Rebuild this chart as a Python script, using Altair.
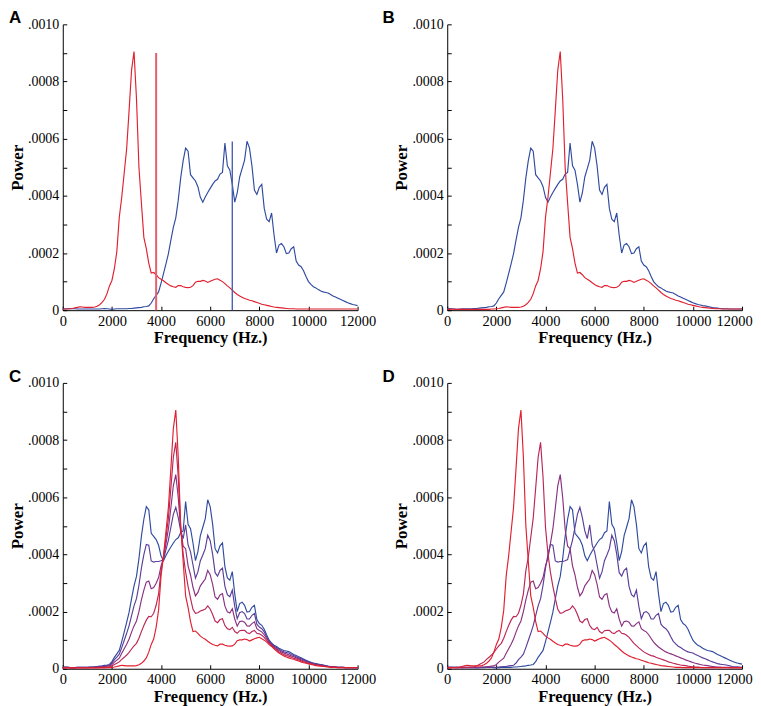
import altair as alt
import pandas as pd

SERIF = "Liberation Serif"
SANS = "Liberation Sans"

# Frequency bins (Hz)
FREQ = list(range(0, 12001, 100))

# Spectral power values in units of 1e-6, one value per 100 Hz bin (0..12000 Hz)
red_B = [3, 3, 4, 3, 3, 3, 3, 3, 3, 3, 3, 3, 3, 3, 3, 3, 3, 3, 4, 4,
         5, 6, 8, 10, 12, 11, 10, 10, 10, 10, 11, 14, 19, 27, 38, 58, 85, 104, 145, 205,
         325, 395, 480, 565, 700, 840, 905, 740, 500, 375, 255, 215, 165, 130, 132, 124, 114, 108, 103, 96,
         90, 85, 82, 80, 86, 86, 82, 80, 79, 80, 86, 98, 101, 101, 104, 102, 97, 101, 105, 108,
         110, 105, 100, 93, 85, 78, 70, 62, 55, 50, 45, 41, 38, 35, 33, 30, 27, 24, 21, 19,
         17, 15, 13, 11, 10, 9, 8, 7, 6, 5, 5, 5, 4, 4, 4, 4, 4, 4, 4, 4, 4]

blue_B = [5, 6, 5, 4, 3, 4, 5, 5, 5, 5, 5, 6, 6, 7, 8, 9, 10, 12, 13, 15,
          25, 40, 52, 64, 95, 128, 162, 198, 245, 290, 323, 385, 463, 523, 567, 556, 474, 463, 452, 432,
          395, 378, 396, 412, 426, 440, 452, 458, 476, 482, 585, 505, 490, 440, 378, 410, 466, 495, 525, 591,
          567, 505, 420, 405, 430, 440, 356, 318, 310, 340, 262, 200, 228, 233, 222, 198, 200, 215, 222, 172,
          158, 152, 138, 118, 100, 90, 82, 78, 72, 67, 64, 62, 60, 55, 50, 46, 42, 38, 34, 30,
          26, 23, 20, 18, 16, 15, 13, 11, 9, 8, 7, 6, 5, 5, 5, 4, 4, 4, 4, 4, 4]

mix_red75 = [4, 4, 4, 3, 3, 3, 4, 4, 4, 4, 4, 4, 4, 4, 4, 5, 5, 5, 6, 7,
             10, 15, 19, 24, 33, 40, 48, 57, 69, 80, 89, 107, 130, 151, 170, 183, 182, 194, 222, 262,
             343, 391, 459, 527, 632, 740, 792, 670, 494, 402, 338, 288, 246, 208, 194, 196, 202, 205, 209, 220,
             209, 190, 167, 161, 172, 175, 151, 140, 137, 145, 130, 124, 133, 134, 134, 126, 123, 130, 134, 124,
             122, 117, 110, 99, 89, 81, 73, 66, 59, 54, 50, 46, 44, 40, 37, 34, 31, 28, 24, 22,
             19, 17, 15, 13, 12, 11, 9, 8, 7, 6, 6, 5, 4, 4, 4, 4, 4, 4, 4, 4, 4]

mix_50 = [4, 5, 5, 4, 3, 4, 4, 4, 4, 4, 4, 5, 5, 5, 6, 6, 7, 8, 9, 10,
          15, 23, 30, 37, 54, 70, 86, 104, 128, 150, 167, 200, 241, 275, 303, 307, 280, 284, 299, 319,
          360, 387, 438, 489, 563, 640, 679, 599, 488, 429, 420, 360, 328, 285, 255, 267, 290, 302, 314, 344,
          329, 295, 251, 243, 258, 263, 219, 199, 195, 210, 174, 149, 165, 167, 163, 150, 149, 158, 164, 140,
          134, 129, 119, 106, 93, 84, 76, 70, 64, 59, 55, 52, 49, 45, 42, 38, 35, 31, 28, 25,
          22, 19, 17, 15, 13, 12, 11, 9, 8, 7, 6, 6, 5, 5, 5, 4, 4, 4, 4, 4, 4]

mix_red25 = [5, 5, 5, 4, 3, 4, 5, 5, 5, 5, 5, 5, 5, 6, 7, 8, 8, 10, 11, 12,
             20, 32, 41, 51, 74, 99, 124, 151, 186, 220, 245, 292, 352, 399, 435, 432, 377, 373, 375, 375,
             378, 382, 417, 450, 495, 540, 565, 529, 482, 455, 503, 433, 409, 363, 317, 339, 378, 398, 420, 467,
             448, 400, 336, 324, 344, 352, 288, 259, 252, 275, 218, 175, 196, 200, 193, 174, 174, 187, 193, 156,
             146, 140, 129, 112, 96, 87, 79, 74, 68, 63, 59, 57, 55, 50, 46, 42, 38, 35, 31, 27,
             24, 21, 18, 16, 15, 14, 12, 10, 8, 7, 7, 6, 5, 5, 5, 4, 4, 4, 4, 4, 4]

red_A = [3, 4, 4, 5, 6, 8, 10, 12, 11, 10, 10, 10, 10, 11, 14, 19, 27, 38, 58, 85,
         104, 145, 205, 325, 395, 480, 565, 700, 840, 905, 740, 500, 375, 255, 215, 165, 130, 132, 124, 114,
         108, 103, 96, 90, 85, 82, 80, 86, 86, 82, 80, 79, 80, 86, 98, 101, 101, 104, 102, 97,
         101, 105, 108, 110, 105, 100, 93, 85, 78, 70, 62, 55, 50, 45, 41, 38, 35, 33, 30, 27,
         24, 21, 19, 17, 15, 13, 11, 10, 9, 8, 7, 6, 5, 5, 5, 4, 4, 4, 4, 4,
         4, 4, 4, 4, 4, 4, 4, 4, 4, 4, 4, 4, 4, 4, 4, 4, 4, 4, 4, 4, 4]

blue_A = [5, 5, 5, 5, 5, 5, 4, 4, 4, 4, 4, 4, 4, 4, 4, 4, 5, 6, 5, 4,
          3, 4, 5, 5, 5, 5, 5, 6, 6, 7, 8, 9, 10, 12, 13, 15, 25, 40, 52, 64,
          95, 128, 162, 198, 245, 290, 323, 385, 463, 523, 567, 556, 474, 463, 452, 432, 395, 378, 396, 412,
          426, 440, 452, 458, 476, 482, 585, 505, 490, 440, 378, 410, 466, 495, 525, 591, 567, 505, 420, 405,
          430, 440, 356, 318, 310, 340, 262, 200, 228, 233, 222, 198, 200, 215, 222, 172, 158, 152, 138, 118,
          100, 90, 82, 78, 72, 67, 64, 62, 60, 55, 50, 46, 42, 38, 34, 30, 26, 23, 20, 18, 16]

red_D = [3, 3, 4, 4, 5, 6, 8, 10, 12, 11, 10, 10, 10, 10, 11, 14, 19, 27, 38, 58,
         85, 104, 145, 205, 325, 395, 480, 565, 700, 840, 905, 740, 500, 375, 255, 215, 165, 130, 132, 124,
         114, 108, 103, 96, 90, 85, 82, 80, 86, 86, 82, 80, 79, 80, 86, 98, 101, 101, 104, 102,
         97, 101, 105, 108, 110, 105, 100, 93, 85, 78, 70, 62, 55, 50, 45, 41, 38, 35, 33, 30,
         27, 24, 21, 19, 17, 15, 13, 11, 10, 9, 8, 7, 6, 5, 5, 5, 4, 4, 4, 4,
         4, 4, 4, 4, 4, 4, 4, 4, 4, 4, 4, 4, 4, 4, 4, 4, 4, 4, 4, 4, 4]

mix_red75_D = [4, 4, 4, 4, 4, 4, 4, 5, 5, 5, 6, 7, 10, 15, 19, 24, 33, 40, 48, 57,
               69, 80, 89, 107, 130, 151, 170, 183, 182, 194, 222, 262, 343, 391, 459, 527, 632, 740, 792, 670,
               494, 402, 338, 288, 246, 208, 194, 196, 202, 205, 209, 220, 209, 190, 167, 161, 172, 175, 151, 140,
               137, 145, 130, 124, 133, 134, 134, 126, 123, 130, 134, 124, 122, 117, 110, 99, 89, 81, 73, 66,
               59, 54, 50, 46, 44, 40, 37, 34, 31, 28, 24, 22, 19, 17, 15, 13, 12, 11, 9, 8,
               7, 6, 6, 5, 4, 4, 4, 4, 4, 4, 4, 4, 4, 4, 4, 4, 4, 4, 4, 4, 4]

mix_red25_D = [5, 5, 5, 5, 5, 5, 5, 5, 5, 5, 5, 4, 3, 4, 5, 5, 5, 5, 5, 5,
               5, 6, 7, 8, 8, 10, 11, 12, 20, 32, 41, 51, 74, 99, 124, 151, 186, 220, 245, 292,
               352, 399, 435, 432, 377, 373, 375, 375, 378, 382, 417, 450, 495, 540, 565, 529, 482, 455, 503, 433,
               409, 363, 317, 339, 378, 398, 420, 467, 448, 400, 336, 324, 344, 352, 288, 259, 252, 275, 218, 175,
               196, 200, 193, 174, 174, 187, 193, 156, 146, 140, 129, 112, 96, 87, 79, 74, 68, 63, 59, 57,
               55, 50, 46, 42, 38, 35, 31, 27, 24, 21, 18, 16, 15, 14, 12, 10, 8, 7, 7, 6, 5]

# Spectral centroids shown in panel A (Hz, power top in 1e-6)
centroid_freq_A = [3800, 6900]
centroid_top_A = [900, 590]

X_TICKS = [0, 2000, 4000, 6000, 8000, 10000, 12000]
Y_TICKS = [0, 0.0002, 0.0004, 0.0006, 0.0008, 0.0010]
Y_MINOR = [0, 0.0001, 0.0002, 0.0003, 0.0004, 0.0005, 0.0006, 0.0007, 0.0008, 0.0009, 0.0010]

COL = {"red": "#e11f2f", "c2": "#bb2656", "c3": "#8a3080", "c4": "#5a3e97", "blue": "#2f4b9f"}

PANELS = {
    "A": [("blue", blue_A), ("red", red_A)],
    "B": [("blue", blue_B), ("red", red_B)],
    "C": [("blue", blue_B), ("c4", mix_red25), ("c3", mix_50), ("c2", mix_red75), ("red", red_B)],
    "D": [("blue", blue_A), ("c4", mix_red25_D), ("c3", mix_50), ("c2", mix_red75_D), ("red", red_D)],
}

W, H = 296, 287

xscale = alt.Scale(domain=[0, 12000], nice=False, zero=False)
yscale = alt.Scale(domain=[0, 0.001], nice=False)


def x_axis(right_col):
    kw = dict(values=X_TICKS, format="d", ticks=False, grid=False, labelOverlap=False,
              labelFlush=False, domainColor="black", domainWidth=1,
              labelFont=SERIF, labelFontSize=14.5, labelColor="black", labelPadding=4,
              title="Frequency (Hz.)", titleFont=SERIF, titleFontSize=16.5,
              titleFontWeight="bold", titleColor="black", titlePadding=2)
    if right_col:
        kw["labelOffset"] = {"condition": {"test": "datum.value == 12000", "value": -8}, "value": 0}
    return alt.Axis(**kw)


main_y_axis = alt.Axis(values=Y_TICKS, ticks=False, grid=False, labelOverlap=False,
                       labelExpr="datum.value == 0 ? '0' : replace(format(datum.value, '.4f'), '0.', '.')",
                       domainColor="black", domainWidth=1,
                       labelFont=SERIF, labelFontSize=14, labelColor="black", labelPadding=4,
                       title="Power", titleFont=SERIF, titleFontSize=17,
                       titleFontWeight="bold", titleColor="black", titlePadding=1)
tick_x_axis = alt.Axis(orient="bottom", values=X_TICKS, offset=-4, tickSize=4, tickColor="black",
                       labels=False, domain=False, grid=False, title=None)
tick_y_axis = alt.Axis(orient="left", values=Y_MINOR, offset=-4, tickSize=4, tickColor="black",
                       labels=False, domain=False, grid=False, title=None)


def make_panel(letter, dx, right_col):
    layers = []
    series_list = PANELS[letter]
    for k, (name, vals) in enumerate(series_list):
        d = pd.DataFrame({"freq": FREQ, "power": [v * 1e-6 for v in vals]})
        if k == 0:
            enc = dict(x=alt.X("freq:Q", scale=xscale, axis=x_axis(right_col)),
                       y=alt.Y("power:Q", scale=yscale, axis=main_y_axis))
        else:
            enc = dict(x=alt.X("freq:Q", scale=xscale, axis=None),
                       y=alt.Y("power:Q", scale=yscale, axis=None))
        layers.append(alt.Chart(d).mark_line(color=COL[name], strokeWidth=1.15).encode(**enc))
    if letter == "A":
        cent_cols = ["#e4606c", "#4a62b2"]
        cent_w = [2.0, 1.4]
        for i in range(2):
            cd = pd.DataFrame({"freq": [centroid_freq_A[i]], "bottom": [0.0],
                               "top": [centroid_top_A[i] * 1e-6]})
            layers.append(alt.Chart(cd).mark_rule(color=cent_cols[i], strokeWidth=cent_w[i]).encode(
                x=alt.X("freq:Q", scale=xscale, axis=None),
                y=alt.Y("bottom:Q", scale=yscale, axis=None),
                y2="top:Q"))
    d0 = pd.DataFrame({"freq": FREQ, "power": [v * 1e-6 for v in series_list[0][1]]})
    layers.append(alt.Chart(d0).mark_line(opacity=0).encode(
        x=alt.X("freq:Q", scale=xscale, axis=tick_x_axis),
        y=alt.Y("power:Q", scale=yscale, axis=tick_y_axis)))
    ch = alt.layer(*layers).resolve_axis(x="independent", y="independent").properties(
        width=W, height=H,
        title=alt.TitleParams(text=letter, anchor="start", frame="group", font=SANS,
                              fontSize=17, fontWeight="bold", color="black",
                              offset=0, dx=dx, dy=10))
    return ch


A = make_panel("A", -54, False)
B = make_panel("B", -65, True)
C = make_panel("C", -54, False)
D = make_panel("D", -65, True)

chart = alt.concat(A, B, C, D, columns=2, spacing={"row": 73, "column": 90}, bounds="flush").properties(
    padding=0, background="white"
).configure_view(stroke=None)

chart.save("out.html", embed_options={"renderer": "svg", "actions": False})
